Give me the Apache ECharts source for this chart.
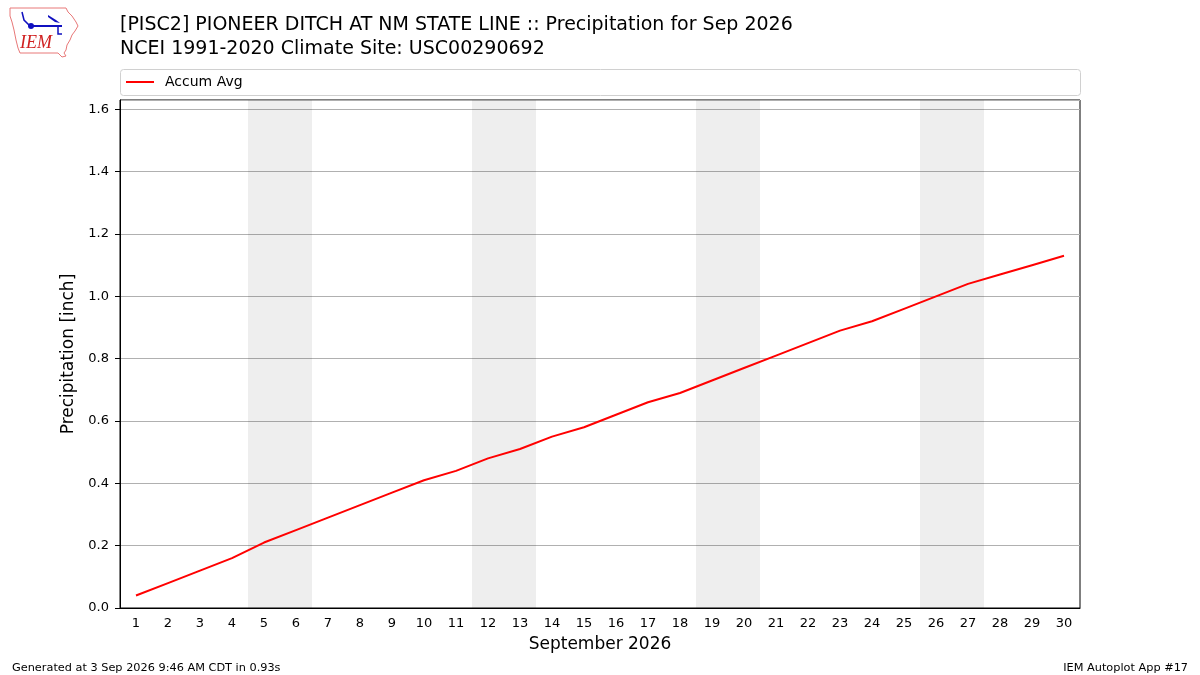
<!DOCTYPE html>
<html>
<head>
<meta charset="utf-8">
<script src="https://cdn.jsdelivr.net/npm/echarts@6/dist/echarts.min.js"></script>
<style>html,body{margin:0;padding:0;background:#fff}#c{width:1200px;height:675px}</style>
</head>
<body>
<div id="c"></div>
<script>
const days = ['1','2','3','4','5','6','7','8','9','10','11','12','13','14','15','16','17','18','19','20','21','22','23','24','25','26','27','28','29','30'];
const accumAvg = [0.04,0.08,0.12,0.16,0.21,0.25,0.29,0.33,0.37,0.41,0.44,0.48,0.51,0.55,0.58,0.62,0.66,0.69,0.73,0.77,0.81,0.85,0.89,0.92,0.96,1.00,1.04,1.07,1.10,1.13];
const weekendDays = ['5','6','12','13','19','20','26','27'];
const yMin = 0, yMax = 1.63, yInterval = 0.2;
const titleLine1 = '[PISC2] PIONEER DITCH AT NM STATE LINE :: Precipitation for Sep 2026';
const titleLine2 = 'NCEI 1991-2020 Climate Site: USC00290692';
const footerLeft = 'Generated at 3 Sep 2026 9:46 AM CDT in 0.93s';
const footerRight = 'IEM Autoplot App #17';

const FONT = 'DejaVu Sans';
const shade = days.map(d => weekendDays.includes(d) ? yMax : '-');

const chart = echarts.init(document.getElementById('c'), null, {renderer: 'canvas'});
chart.setOption({
  backgroundColor: '#ffffff',
  animation: false,
  textStyle: {fontFamily: FONT},
  title: [
    {text: titleLine1, left: 115, top: 11, textStyle: {fontFamily: FONT, fontSize: 19, fontWeight: 'normal', color: '#000'}},
    {text: titleLine2, left: 115, top: 35, textStyle: {fontFamily: FONT, fontSize: 19, fontWeight: 'normal', color: '#000'}},
    {text: footerLeft, left: 7, top: 658, textStyle: {fontFamily: FONT, fontSize: 11.3, fontWeight: 'normal', color: '#000'}},
    {text: footerRight, right: 7, top: 658, textStyle: {fontFamily: FONT, fontSize: 11.3, fontWeight: 'normal', color: '#000'}}
  ],
  graphic: [
    {type: 'rect', left: 120, top: 69, shape: {width: 960, height: 26, r: 3}, style: {fill: '#fff', stroke: '#d0d0d0', lineWidth: 1}, z: 0},
    {type: 'polyline', shape: {points: [[10,8],[66,8],[68,12],[72,16],[76,22],[78,26],[75,31],[72,35],[70,40],[67,45],[66,50],[64,53],[66,56],[62,57],[58,53],[20,53],[18,48],[16,40],[14,30],[12,22],[10,16],[10,8]]}, style: {stroke: '#e87878', fill: null, lineWidth: 1}},
    {type: 'polyline', shape: {points: [[30,26],[62,26]]}, style: {stroke: '#1010c0', lineWidth: 2}},
    {type: 'circle', shape: {cx: 31, cy: 26, r: 3}, style: {fill: '#1010c0'}},
    {type: 'polyline', shape: {points: [[22,12],[24,20],[30,26]]}, style: {stroke: '#1010c0', lineWidth: 1.5}},
    {type: 'polygon', shape: {points: [[48,15],[56,20],[60,23],[55,22],[48,17]]}, style: {fill: '#1010c0'}},
    {type: 'polyline', shape: {points: [[58,26],[58,34],[62,34]]}, style: {stroke: '#1010c0', lineWidth: 1.5}},
    {type: 'text', left: 20, top: 34, style: {text: 'IEM', font: 'italic 18px "Liberation Serif"', fill: '#d02020'}}
  ],
  legend: {
    data: [{name: 'Accum Avg', icon: 'rect'}],
    left: 121, top: 70,
    itemWidth: 28, itemHeight: 2,
    textStyle: {fontFamily: FONT, fontSize: 14, color: '#000', padding: [0,0,0,6]}
  },
  grid: {left: 120, right: 120, top: 100, bottom: 67, show: true, borderColor: '#000', borderWidth: 1, containLabel: false},
  xAxis: {
    type: 'category', data: days, boundaryGap: true,
    name: 'September 2026', nameLocation: 'middle', nameGap: 28,
    nameTextStyle: {fontFamily: FONT, fontSize: 17, color: '#000'},
    axisLine: {lineStyle: {color: '#000', width: 1}},
    axisTick: {alignWithLabel: true, length: 5, lineStyle: {color: '#000'}},
    axisLabel: {fontFamily: FONT, fontSize: 13, color: '#000', margin: 9, interval: 0},
    splitLine: {show: false}
  },
  yAxis: {
    type: 'value', min: yMin, max: yMax, interval: yInterval,
    name: 'Precipitation [inch]', nameLocation: 'middle', nameGap: 38, nameRotate: 90,
    nameTextStyle: {fontFamily: FONT, fontSize: 17, color: '#000'},
    axisLine: {show: true, lineStyle: {color: '#000', width: 1}},
    axisTick: {show: true, length: 5, lineStyle: {color: '#000'}},
    axisLabel: {fontFamily: FONT, fontSize: 13, color: '#000', margin: 11, showMaxLabel: false, formatter: v => v.toFixed(1)},
    splitLine: {show: true, lineStyle: {color: '#b0b0b0', width: 1}}
  },
  series: [
    {name: 'weekend', type: 'bar', data: shade, barCategoryGap: '0%', barGap: '0%', silent: true,
     itemStyle: {color: 'rgba(0,0,0,0.067)'}, z: 1},
    {name: 'Accum Avg', type: 'line', data: accumAvg, symbol: 'none', smooth: false,
     lineStyle: {color: '#ff0000', width: 2}, itemStyle: {color: '#ff0000'}, z: 3}
  ]
});
</script>
</body>
</html>
